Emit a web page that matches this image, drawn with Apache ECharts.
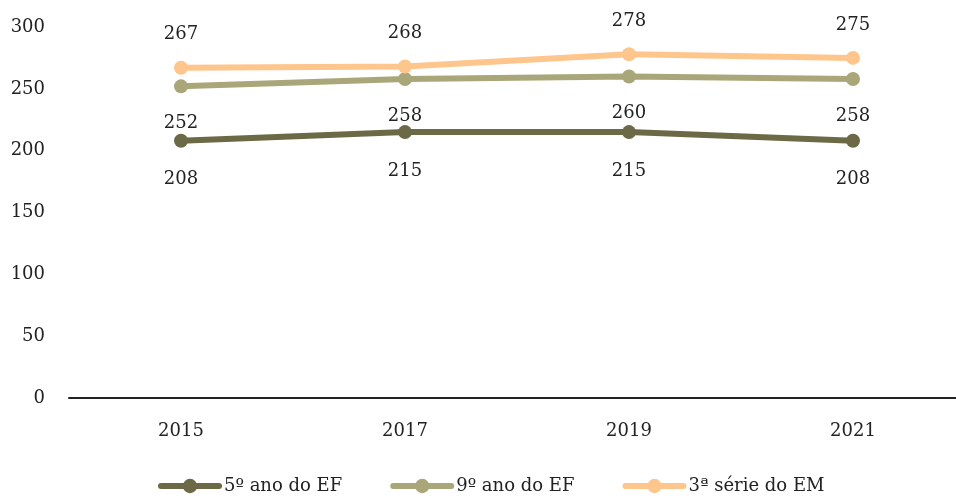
<!DOCTYPE html>
<html>
<head>
<meta charset="utf-8">
<script src="https://cdn.jsdelivr.net/npm/echarts@6/dist/echarts.min.js"></script>
<style>html,body{margin:0;padding:0;background:#fff}#c{width:956px;height:496px}</style>
</head>
<body>
<div id="c"></div>
<script>
const categories = ['2015', '2017', '2019', '2021'];
const seriesNames = ['5º ano do EF', '9º ano do EF', '3ª série do EM'];
const ef5 = [208, 215, 215, 208];
const ef9 = [252, 258, 260, 258];
const em3 = [267, 268, 278, 275];
const yTicks = [0, 50, 100, 150, 200, 250, 300];

const FONT = 'DejaVu Serif';
const colors = ['#6b6946', '#a9a779', '#fec68c'];
const chart = echarts.init(document.getElementById('c'));
function mk(name, data, color, pos, dist) {
  return {
    name, type: 'line', data,
    symbol: 'circle', symbolSize: 14,
    lineStyle: { width: 6, color, cap: 'round' },
    itemStyle: { color },
    label: { show: true, position: pos, distance: dist, fontFamily: FONT, fontSize: 18, color: '#222' },
    emphasis: { disabled: true }
  };
}
chart.setOption({
  animation: false,
  textStyle: { fontFamily: FONT },
  legend: {
    left: 153, top: 472,
    itemWidth: 58, itemHeight: 18, itemGap: 48,
    lineStyle: { width: 6, cap: 'round' },
    textStyle: { fontFamily: FONT, fontSize: 18, color: '#222' },
    data: seriesNames
  },
  grid: { left: 69, width: 896, top: 27, bottom: 98, containLabel: false, outerBoundsMode: 'none' },
  xAxis: {
    type: 'category', data: categories,
    axisLine: { lineStyle: { color: '#222', width: 2 } },
    axisTick: { show: false },
    axisLabel: { fontFamily: FONT, fontSize: 18, color: '#222', margin: 24 }
  },
  yAxis: {
    type: 'value', min: yTicks[0], max: yTicks[yTicks.length - 1], interval: 50,
    splitLine: { show: false },
    axisLine: { show: false }, axisTick: { show: false },
    axisLabel: { fontFamily: FONT, fontSize: 18, color: '#222', margin: 24 }
  },
  series: [
    mk(seriesNames[0], ef5, colors[0], 'bottom', 23),
    mk(seriesNames[1], ef9, colors[1], 'bottom', 21),
    mk(seriesNames[2], em3, colors[2], 'top', 17)
  ]
});
</script>
</body>
</html>
